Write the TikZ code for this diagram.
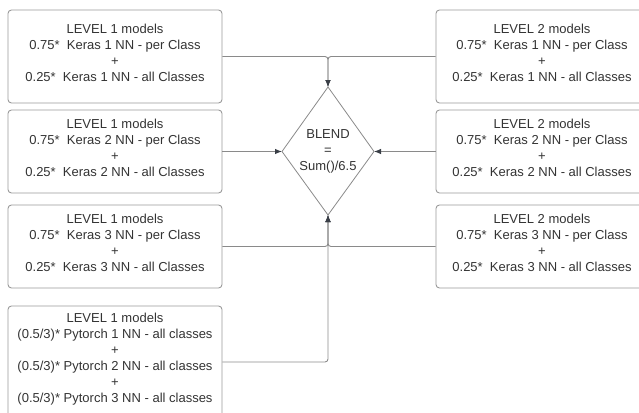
\documentclass[tikz,border=0pt]{standalone}
\usepackage{fontspec}
\setmainfont{Liberation Sans}
\usetikzlibrary{arrows.meta}
\definecolor{boxc}{HTML}{9A9A9A}
\definecolor{linec}{HTML}{8A8A8A}
\definecolor{tipc}{HTML}{3A3F47}
\definecolor{txtc}{HTML}{333333}
\tikzset{
  box/.style={draw=boxc, line width=0.9pt, rounded corners=3.5pt, rectangle,
    minimum width=214pt, align=center, text=txtc, inner sep=0pt, text depth=8pt,
    font=\fontsize{13}{16}\selectfont},
  rbox/.style={box, minimum width=212pt},
  conn/.style={draw=linec, line width=0.9pt, rounded corners=3pt,
    -{Latex[length=7pt,width=5.5pt,color=tipc]}},
  dia/.style={draw=linec, line width=0.8pt},
  dtext/.style={align=center, text=txtc, inner sep=0pt, font=\fontsize{13}{16}\selectfont}
}
\begin{document}
\begin{tikzpicture}[x=1pt,y=-1pt]
\useasboundingbox (0,0) rectangle (639,412);
% left boxes
\node[box, minimum height=93pt] (l1) at (115,56.5) {LEVEL 1 models\\0.75*\ \ Keras 1 NN - per Class\\+\\0.25*\ \ Keras 1 NN - all Classes};
\node[box, minimum height=83pt] (l2) at (115,151.5) {LEVEL 1 models\\0.75*\ \ Keras 2 NN - per Class\\+\\0.25*\ \ Keras 2 NN - all Classes};
\node[box, minimum height=83pt] (l3) at (115,246.5) {LEVEL 1 models\\0.75*\ \ Keras 3 NN - per Class\\+\\0.25*\ \ Keras 3 NN - all Classes};
\node[box, minimum height=112pt] (l4) at (115,362) {LEVEL 1 models\\(0.5/3)* Pytorch 1 NN - all classes\\+\\(0.5/3)* Pytorch 2 NN - all classes\\+\\(0.5/3)* Pytorch 3 NN - all classes};
% right boxes
\node[rbox, minimum height=93pt] (r1) at (542,56.5) {LEVEL 2 models\\0.75*\ \ Keras 1 NN - per Class\\+\\0.25*\ \ Keras 1 NN - all Classes};
\node[rbox, minimum height=83pt] (r2) at (542,151.5) {LEVEL 2 models\\0.75*\ \ Keras 2 NN - per Class\\+\\0.25*\ \ Keras 2 NN - all Classes};
\node[rbox, minimum height=83pt] (r3) at (542,246.5) {LEVEL 2 models\\0.75*\ \ Keras 3 NN - per Class\\+\\0.25*\ \ Keras 3 NN - all Classes};
% diamond
\coordinate (dtop) at (328,87);
\coordinate (dright) at (374,151.5);
\coordinate (dbot) at (328,215);
\coordinate (dleft) at (282,151.5);
\draw[dia] (dtop) -- (dright) -- (dbot) -- (dleft) -- cycle;
\node[dtext] (blend) at (328,151) {BLEND\\=\\Sum()/6.5};
% connectors
\draw[conn] (l1.east) -| (dtop);
\draw[conn] (r1.west) -| (dtop);
\draw[conn] (l2.east) -- (dleft);
\draw[conn] (r2.west) -- (dright);
\draw[conn] (l3.east) -| (dbot);
\draw[conn] (r3.west) -| (dbot);
\draw[conn] (l4.east) -| (dbot);
\end{tikzpicture}
\end{document}
